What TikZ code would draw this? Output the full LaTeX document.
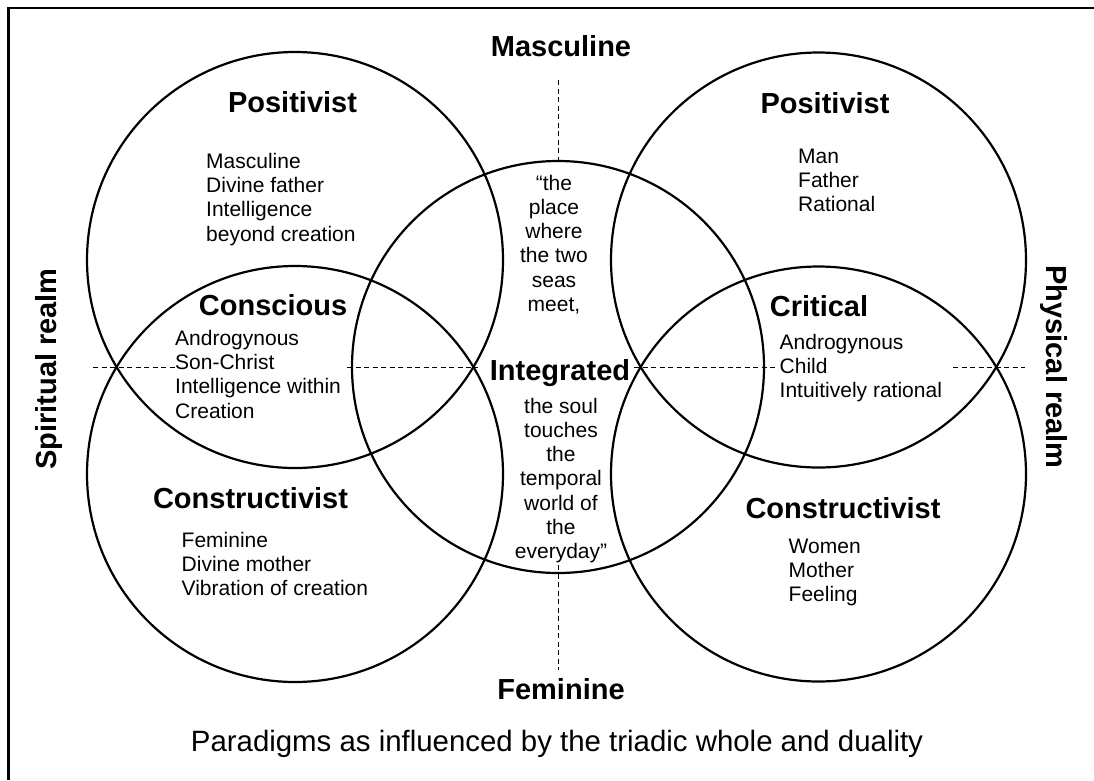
\documentclass[tikz,border=0pt]{standalone}
\usepackage{fontspec}
\setmainfont{Liberation Sans}
\usetikzlibrary{positioning}

\newcommand\headfont{\fontsize{29}{34}\selectfont\bfseries}
\newcommand\itemfont{\fontsize{21}{24.3}\selectfont}

\begin{document}
\begin{tikzpicture}[x=1pt, y=-1pt,
  ring/.style={draw=black, line width=2.2pt},
  axis/.style={draw=black, line width=1pt, dash pattern=on 5pt off 3.5pt},
  frame/.style={draw=black, line width=2.7pt},
  head/.style={font=\headfont, inner sep=0pt, anchor=base},
  % multi-line blocks sit on the baseline of their last line
  items/.style={font=\itemfont, align=left, inner sep=0pt, anchor=base west},
  quote/.style={font=\itemfont, align=center, inner sep=0pt, anchor=base}
]
  \useasboundingbox (0,0) rectangle (1094,780);

  % Border
  \draw[frame] (8.7,780) -- (8.7,8) -- (1094,8);

  % Circles
  \coordinate (spiritpos) at (295,260);
  \coordinate (spiritcon) at (295,474);
  \coordinate (whole) at (558,367);
  \coordinate (physpos) at (818.5,260);
  \coordinate (physcon) at (818.5,474);
  \foreach \c/\r in {spiritpos/208, spiritcon/208, whole/206, physpos/207.5, physcon/207.5}
    \draw[ring] (\c) circle[radius=\r];

  % Axes
  \draw[axis] (558,80) -- (558,160);
  \draw[axis] (558,565) -- (558,670);
  \foreach \a/\b in {93/175, 347/478, 634/778, 953/1025}
    \draw[axis] (\a,367) -- (\b,367);

  % Poles
  \node[head] (masc) at (561,56) {Masculine};
  \node[head] (fem) at (561,699) {Feminine};
  \node[head, rotate=90] (spirit) at (56.5,369) {Spiritual realm};
  \node[head, rotate=-90] (phys) at (1046.5,367) {Physical realm};

  % Spiritual side
  \node[head] (lpos) at (292.5,112) {Positivist};
  \node[items] (lposlist) at (206,241) {Masculine\\Divine father\\Intelligence\\beyond creation};
  \node[head] (consc) at (273,315) {Conscious};
  \node[items] (consclist) at (175,418) {Androgynous\\Son-Christ\\Intelligence within\\Creation};
  \node[head] (lcon) at (250.5,508.5) {Constructivist};
  \node[items] (lconlist) at (181.5,595.6) {Feminine\\Divine mother\\Vibration of creation};

  % Physical side
  \node[head] (rpos) at (825,113) {Positivist};
  \node[items] (rposlist) at (798,211.6) {Man\\Father\\Rational};
  \node[head] (crit) at (819,316) {Critical};
  \node[items] (critlist) at (779.5,397.6) {Androgynous\\Child\\Intuitively rational};
  \node[head] (rcon) at (843,518.5) {Constructivist};
  \node[items] (rconlist) at (788.5,601.6) {Women\\Mother\\Feeling};

  % Middle
  \node[quote] (seas) at (554,311.5) {“the\\place\\where\\the two\\seas\\meet,};
  \node[head] (integ) at (560,380) {Integrated};
  \node[quote] (soul) at (561,558.8) {the soul\\touches\\the\\temporal\\world of\\the\\everyday”};

  \node[quote, font=\fontsize{29.4}{34}\selectfont] (caption) at (557,751) {Paradigms as influenced by the triadic whole and duality};
\end{tikzpicture}
\end{document}
